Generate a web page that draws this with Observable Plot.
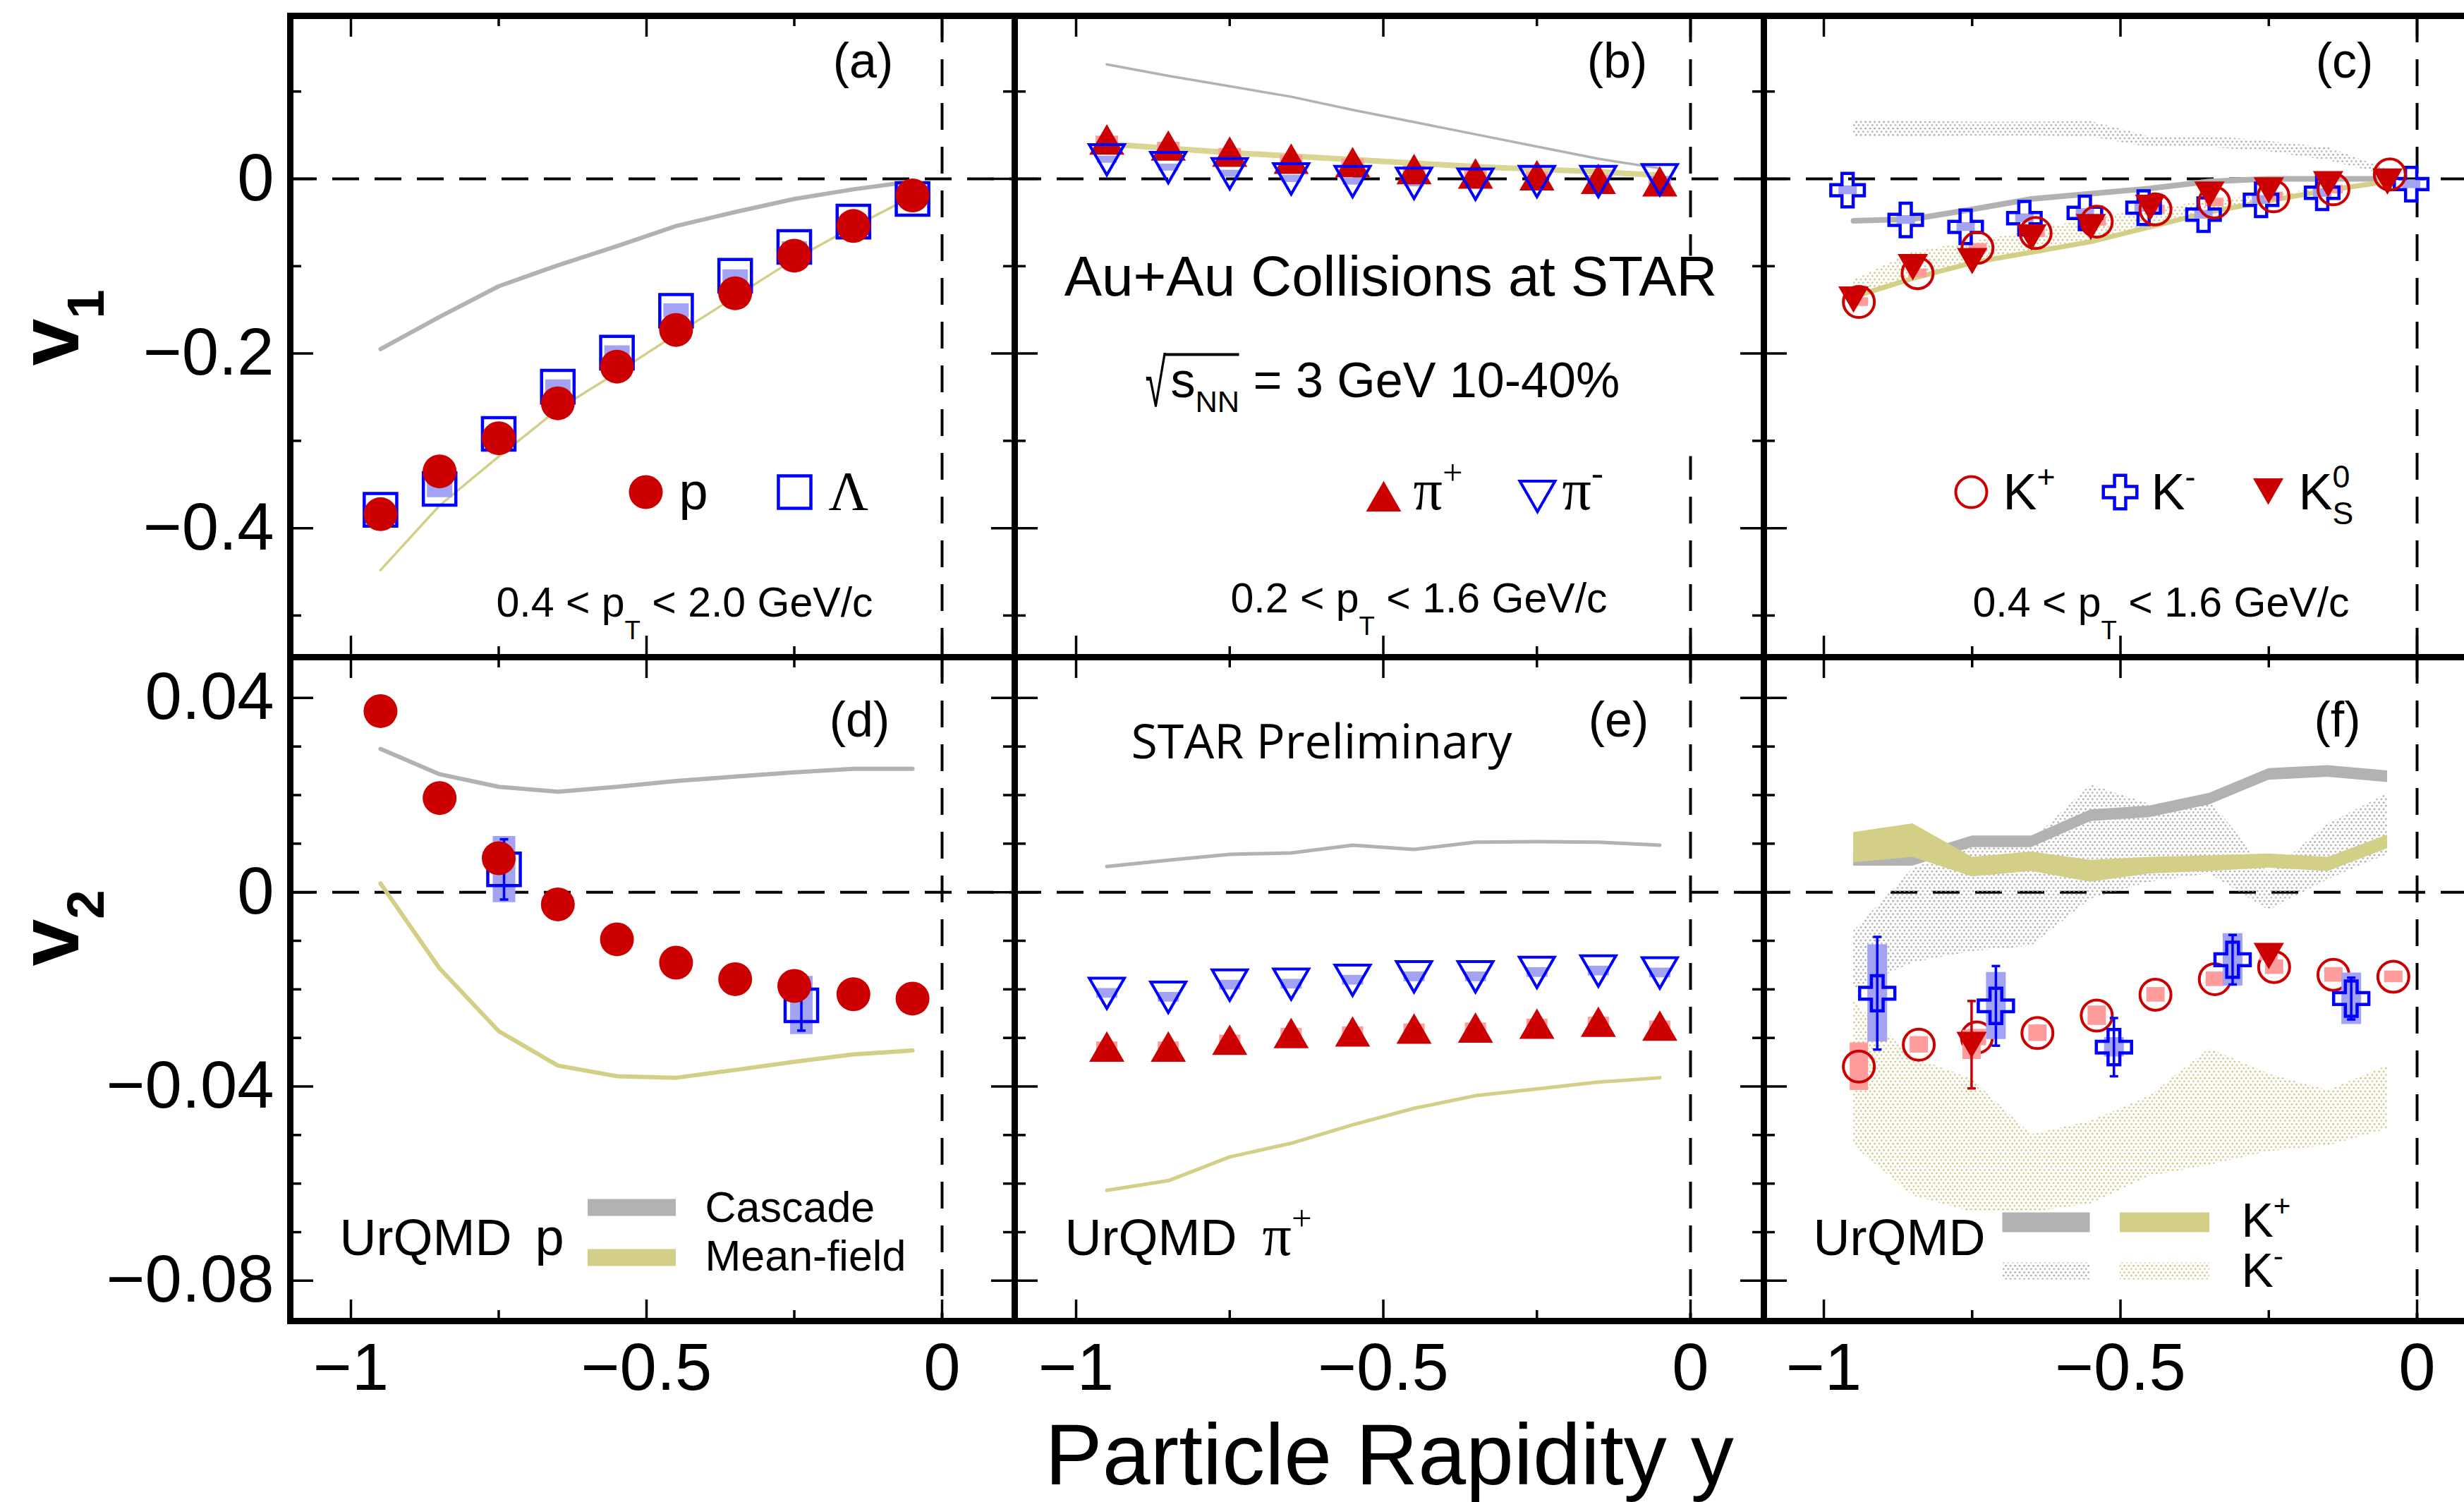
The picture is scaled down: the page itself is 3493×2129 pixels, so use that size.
<!DOCTYPE html>
<html><head><meta charset="utf-8">
<script src="https://cdn.jsdelivr.net/npm/d3@7"></script>
<script src="https://cdn.jsdelivr.net/npm/@observablehq/plot@0.6"></script>
<style>
html,body{margin:0;padding:0;background:#fff;overflow:hidden;}
#fig{position:relative;width:3493px;height:2129px;overflow:hidden;background:#fff;}
</style></head>
<body><div id="fig"></div>
<svg width="0" height="0" style="position:absolute">
<defs>
<pattern id="dotsGray" width="6.5" height="9.3" patternUnits="userSpaceOnUse"><circle cx="1.6" cy="2" r="1.35" fill="#a6a6a6"/><circle cx="4.85" cy="6.6" r="1.35" fill="#a6a6a6"/></pattern>
<pattern id="dotsOlive" width="6.5" height="9.3" patternUnits="userSpaceOnUse"><circle cx="1.6" cy="2" r="1.35" fill="#c9c27a"/><circle cx="4.85" cy="6.6" r="1.35" fill="#c9c27a"/></pattern>
</defs></svg>
<script>
// ---------------- data ----------------
const rapidity = [-0.95,-0.85,-0.75,-0.65,-0.55,-0.45,-0.35,-0.25,-0.15,-0.05];
const xTicks = [-1,-0.75,-0.5,-0.25,0];
const xTickLabels = [-1,-0.5,0];
const v1Ticks = [-0.5,-0.4,-0.3,-0.2,-0.1,0,0.1];
const v1TickLabels = [-0.4,-0.2,0];
const v2Ticks = [-0.08,-0.07,-0.06,-0.05,-0.04,-0.03,-0.02,-0.01,0,0.01,0.02,0.03,0.04];
const v2TickLabels = [-0.08,-0.04,0,0.04];

// (a) v1 protons and lambdas
const v1Proton = [-0.384,-0.335,-0.297,-0.257,-0.215,-0.173,-0.131,-0.088,-0.054,-0.019];
const v1Lambda = [-0.379,-0.355,-0.292,-0.238,-0.199,-0.151,-0.111,-0.078,-0.049,-0.023];
const v1LambdaSys = [0.006,0.010,0.006,0.008,0.008,0.008,0.007,0.006,0.005,0.004];
const v1ProtonCascade = [-0.195,-0.158,-0.123,-0.099,-0.077,-0.054,-0.038,-0.023,-0.012,-0.003];
const v1ProtonMeanField = [-0.448,-0.374,-0.318,-0.264,-0.222,-0.178,-0.135,-0.092,-0.055,-0.020];

// (b) v1 pions
const v1PiPlus = [0.045,0.038,0.031,0.023,0.019,0.011,0.006,0.004,0.000,-0.003];
const v1PiMinus = [0.022,0.013,0.006,0.000,-0.003,-0.005,-0.006,-0.003,-0.003,-0.001];
const v1PionSys = [0.004,0.004,0.004,0.004,0.004,0.004,0.004,0.004,0.004,0.004];
const v1PionCascade = [0.131,0.118,0.106,0.094,0.079,0.065,0.051,0.037,0.023,0.012];
const v1PionMeanField = [0.040,0.035,0.030,0.026,0.022,0.018,0.014,0.011,0.008,0.004];

// (c) v1 kaons
const yKPlus = [-0.941,-0.842,-0.741,-0.643,-0.540,-0.441,-0.342,-0.242,-0.141,-0.046];
const v1KPlus = [-0.141,-0.108,-0.079,-0.062,-0.049,-0.035,-0.027,-0.020,-0.012,0.005];
const yKMinus = [-0.960,-0.862,-0.761,-0.662,-0.560,-0.461,-0.360,-0.263,-0.160,-0.010];
const v1KMinus = [-0.013,-0.047,-0.055,-0.045,-0.039,-0.033,-0.041,-0.024,-0.016,-0.006];
const v1KaonSys = [0.005,0.005,0.005,0.005,0.005,0.005,0.005,0.005,0.005,0.005];
const v1K0S = [-0.138,-0.101,-0.094,-0.067,-0.055,-0.033,-0.018,-0.013,-0.006,-0.003];
const v1KPlusCascade = [-0.048,-0.046,-0.035,-0.023,-0.017,-0.011,-0.003,0.000,0.000,0.000];
const v1KPlusMeanField = [-0.135,-0.114,-0.096,-0.084,-0.072,-0.055,-0.038,-0.025,-0.013,-0.003];
const v1KMinusCascadeHi = [0.067,0.066,0.065,0.065,0.066,0.048,0.049,0.043,0.036,0.011];
const v1KMinusCascadeLo = [0.048,0.048,0.049,0.049,0.048,0.036,0.036,0.031,0.021,0.004];
const v1KMinusMeanFieldHi = [-0.116,-0.084,-0.072,-0.060,-0.045,-0.035,-0.025,-0.018,-0.011,-0.001];
const v1KMinusMeanFieldLo = [-0.138,-0.117,-0.099,-0.087,-0.075,-0.058,-0.041,-0.028,-0.016,-0.005];

// (d) v2 protons and lambdas
const v2Proton = [0.0373,0.0194,0.0070,-0.0025,-0.0097,-0.0145,-0.0179,-0.0193,-0.0210,-0.0219];
const yLambdaV2 = [-0.741,-0.238];
const v2Lambda = [0.0047,-0.0233];
const v2LambdaStat = [0.0062,0.0052];
const v2LambdaSys = [0.0068,0.0060];
const v2ProtonCascade = [0.0295,0.0243,0.0217,0.0207,0.0217,0.0229,0.0238,0.0247,0.0254,0.0254];
const v2ProtonMeanField = [0.0018,-0.0157,-0.0286,-0.0357,-0.0379,-0.0382,-0.0366,-0.0349,-0.0334,-0.0326];

// (e) v2 pions
const v2PiMinus = [-0.0208,-0.0216,-0.0191,-0.0189,-0.0181,-0.0174,-0.0174,-0.0165,-0.0162,-0.0166];
const v2PiPlus = [-0.0318,-0.0318,-0.0304,-0.0290,-0.0287,-0.0281,-0.0279,-0.0271,-0.0267,-0.0275];
const v2PionSys = [0.0010,0.0010,0.0010,0.0010,0.0010,0.0010,0.0010,0.0010,0.0010,0.0010];
const v2PionCascade = [0.0053,0.0066,0.0078,0.0081,0.0097,0.0088,0.0103,0.0104,0.0103,0.0097];
const v2PionMeanField = [-0.0614,-0.0594,-0.0545,-0.0517,-0.0479,-0.0445,-0.0419,-0.0405,-0.0391,-0.0382];

// (f) v2 kaons
const yKPlusV2 = [-0.941,-0.840,-0.742,-0.640,-0.540,-0.441,-0.341,-0.241,-0.141,-0.040];
const v2KPlus = [-0.0359,-0.0314,-0.0299,-0.0290,-0.0254,-0.0211,-0.0179,-0.0154,-0.0170,-0.0174];
const v2KPlusSys = [0.0049,0.0017,0.0017,0.0017,0.0020,0.0015,0.0015,0.0015,0.0015,0.0012];
const yKMinusV2 = [-0.910,-0.710,-0.511,-0.311,-0.111];
const v2KMinus = [-0.0208,-0.0234,-0.0319,-0.0139,-0.0219];
const v2KMinusStat = [0.0116,0.0082,0.0060,0.0051,0.0043];
const v2KMinusSys = [0.0100,0.0069,0.0020,0.0054,0.0053];
const yK0SV2 = [-0.751,-0.250];
const v2K0S = [-0.0314,-0.0131];
const v2K0SStat = [0.0090,0.0010];
const v2K0SSys = [0.0030,0.0010];
const v2KPlusCascadeLo = [0.0054,0.0054,0.0092,0.0092,0.0146,0.0154,0.0180,0.0231,0.0237,0.0226];
const v2KPlusCascadeHi = [0.0078,0.0078,0.0116,0.0116,0.0170,0.0178,0.0204,0.0255,0.0261,0.0250];
const v2KPlusMeanFieldLo = [0.0061,0.0072,0.0032,0.0043,0.0021,0.0038,0.0043,0.0050,0.0043,0.0090];
const v2KPlusMeanFieldHi = [0.0123,0.0141,0.0072,0.0083,0.0066,0.0072,0.0075,0.0079,0.0072,0.0118];
const v2KMinusCascadeHi = [-0.0080,0.0049,0.0095,0.0106,0.0221,0.0181,0.0192,0.0038,0.0141,0.0203];
const v2KMinusCascadeLo = [-0.0200,-0.0145,-0.0122,-0.0111,-0.0014,0.0021,0.0038,-0.0037,0.0026,0.0078];
const v2KMinusMeanFieldHi = [-0.0225,-0.0339,-0.0385,-0.0499,-0.0471,-0.0419,-0.0322,-0.0374,-0.0408,-0.0357];
const v2KMinusMeanFieldLo = [-0.0522,-0.0625,-0.0659,-0.0659,-0.0642,-0.0585,-0.0562,-0.0534,-0.0522,-0.0488];

// ---------------- style / layout ----------------
const FONT = "'Liberation Sans', Arial, Helvetica, sans-serif";
const SERIF = "'Liberation Serif', 'Times New Roman', serif";
const OPEN = "'Open Sans', sans-serif";
const RED = "#cc0000", BLUE = "#0000ff", GRAY = "#b2b2b2", OLIVE = "#d3cf86";
const PINK = "#ff9c9c", LAV = "#a3a3f3";

const COLS = [
  {x0: 411, x1: 1438, domain: [-1.1026, 0.1229]},
  {x0: 1438, x1: 2500, domain: [-1.0999, 0.1194]},
  {x0: 2500, x1: 3527, domain: [-1.1011, 0.1201]}
];
const ROWS = [
  {y0: 22, y1: 931, domain: [-0.5477, 0.1866]},
  {y0: 931, y1: 1872, domain: [-0.0883, 0.0484]}
];

const pts = (xs, ys, es) => xs.map((x, i) => ({x, y: ys[i], e: es ? es[i] : 0}));
const band = (xs, lo, hi) => xs.map((x, i) => ({x, lo: lo[i], hi: hi[i]}));
const fmt = d => d === 0 ? "0" : (d < 0 ? "\u2212" : "") + Math.abs(d);
const rectSymbol = (w, h) => ({draw(ctx) { ctx.moveTo(-w/2, -h/2); ctx.lineTo(w/2, -h/2); ctx.lineTo(w/2, h/2); ctx.lineTo(-w/2, h/2); ctx.closePath(); }});

const label = (s, dx, dy, o = {}) => Plot.text([s], {frameAnchor: "top-left", dx, dy, text: d => d,
  lineAnchor: "bottom", textAnchor: "start", fontSize: 70, fill: "black", ...o});
const marker = (dx, dy, o = {}) => Plot.dot([0], {frameAnchor: "top-left", dx, dy, ...o});
const zeroLines = () => [
  Plot.ruleY([0], {stroke: "black", strokeWidth: 4, strokeDasharray: "38,22"}),
  Plot.ruleX([0], {stroke: "black", strokeWidth: 4, strokeDasharray: "38,24"})
];
const sysBox = (data, color, width) => Plot.ruleX(data, {x: "x", y1: d => d.y - d.e, y2: d => d.y + d.e, stroke: color, strokeWidth: width});
const errBar = (data, color) => [
  Plot.ruleX(data, {x: "x", y1: d => d.y - d.e, y2: d => d.y + d.e, stroke: color, strokeWidth: 3.5}),
  Plot.dot(data, {x: "x", y: d => d.y - d.e, symbol: rectSymbol(12, 3.5), fill: color}),
  Plot.dot(data, {x: "x", y: d => d.y + d.e, symbol: rectSymbol(12, 3.5), fill: color})
];
const line = (xs, ys, color, width) => Plot.line(pts(xs, ys), {x: "x", y: "y", stroke: color, strokeWidth: width});

function frameMarks(w, h, yTicks, yMajor) {
  const xMinor = xTicks.filter(t => !xTickLabels.includes(t));
  const yMinor = yTicks.filter(t => !yMajor.includes(t));
  const s = {stroke: "black", strokeWidth: 3.5};
  return [
    Plot.tickX(xMinor, {x: d => d, insetTop: h - 15, ...s}),
    Plot.tickX(xMinor, {x: d => d, insetBottom: h - 15, ...s}),
    Plot.tickX(xTickLabels, {x: d => d, insetTop: h - 30, ...s}),
    Plot.tickX(xTickLabels, {x: d => d, insetBottom: h - 30, ...s}),
    Plot.tickY(yMinor, {y: d => d, insetRight: w - 16, ...s}),
    Plot.tickY(yMinor, {y: d => d, insetLeft: w - 16, ...s}),
    Plot.tickY(yMajor, {y: d => d, insetRight: w - 33, ...s}),
    Plot.tickY(yMajor, {y: d => d, insetLeft: w - 33, ...s}),
    Plot.frame({stroke: "black", strokeWidth: 9})
  ];
}
const xAxisLabels = () => Plot.axisX({anchor: "bottom", ticks: xTickLabels, tickSize: 0, tickPadding: 31, fontSize: 94, tickFormat: fmt, label: null});

const fig = document.getElementById("fig");
const svgs = [];
function makePanel(col, row, build) {
  const c = COLS[col], r = ROWS[row];
  const w = c.x1 - c.x0, h = r.y1 - r.y0;
  const svg = Plot.plot({
    width: w, height: h,
    marginTop: 0, marginRight: 0, marginBottom: 0, marginLeft: 0,
    x: {domain: c.domain, axis: null},
    y: {domain: r.domain, axis: null},
    style: {fontFamily: FONT, background: "transparent", overflow: "visible"},
    marks: build(w, h)
  });
  Object.assign(svg.style, {position: "absolute", left: c.x0 + "px", top: r.y0 + "px",
    maxWidth: "none", overflow: "visible", background: "transparent"});
  fig.appendChild(svg);
  svgs.push(svg);
}

// (a)
makePanel(0, 0, (w, h) => [
  zeroLines(),
  line(rapidity, v1ProtonCascade, GRAY, 6),
  line(rapidity, v1ProtonMeanField, OLIVE, 3.5),
  sysBox(pts(rapidity, v1Lambda, v1LambdaSys), LAV, 36),
  Plot.dot(pts(rapidity, v1Lambda), {x: "x", y: "y", symbol: "square", r: 26, stroke: BLUE, strokeWidth: 4.5, fill: "none"}),
  Plot.dot(pts(rapidity, v1Proton), {x: "x", y: "y", r: 24, fill: RED}),
  label("(a)", 812, 87, {textAnchor: "middle"}),
  marker(504, 675, {r: 24, fill: RED}),
  label("p", 551, 699, {fontSize: 74}),
  marker(715, 675, {symbol: "square", r: 26, stroke: BLUE, strokeWidth: 4.5, fill: "none"}),
  label("\u039B", 763, 699, {fontSize: 78, fontFamily: SERIF}),
  label("0.4 < p_[T] < 2.0 GeV/c", 292, 851, {fontSize: 59}),
  label("v_{1}", -301, 442, {fontSize: 120, fontWeight: "bold", rotate: -90, textAnchor: "middle"}),
  Plot.axisY({anchor: "left", ticks: v1TickLabels, tickSize: 0, tickPadding: 23, fontSize: 94, tickFormat: fmt, label: null}),
  frameMarks(w, h, v1Ticks, v1TickLabels)
]);

// (b)
makePanel(1, 0, (w, h) => [
  zeroLines(),
  Plot.dot([0], {frameAnchor: "top-left", dx: 533, dy: 482, symbol: rectSymbol(960, 284), fill: "white"}),
  line(rapidity, v1PionCascade, GRAY, 3.5),
  line(rapidity, v1PionMeanField, "#d9d593", 8),
  sysBox(pts(rapidity, v1PiPlus, v1PionSys), PINK, 32),
  sysBox(pts(rapidity, v1PiMinus, v1PionSys), LAV, 28),
  Plot.dot(pts(rapidity, v1PiPlus), {x: "x", y: "y", symbol: "triangle", r: 18.5, fill: RED, dy: 7}),
  Plot.dot(pts(rapidity, v1PiMinus), {x: "x", y: "y", symbol: "triangle", rotate: 180, r: 18.5, stroke: BLUE, strokeWidth: 4, fill: "none", dy: -7}),
  label("(b)", 854, 87, {textAnchor: "middle"}),
  label("Au+Au Collisions at STAR", 533, 396, {fontSize: 80, textAnchor: "middle"}),
  marker(265, 480, {symbol: rectSymbol(106, 4), fill: "black"}),
  label("\u221A", 185, 553, {fontSize: 96}),
  label("s_{NN} = 3 GeV 10-40%", 221, 540, {fontSize: 70}),
  marker(523, 688, {symbol: "triangle", r: 18.5, fill: RED}),
  label("\u03C0^{+}", 565, 699, {fontSize: 82, fontFamily: SERIF}),
  marker(741, 674, {symbol: "triangle", rotate: 180, r: 18.5, stroke: BLUE, strokeWidth: 4, fill: "none"}),
  label("\u03C0^{-}", 776, 699, {fontSize: 82, fontFamily: SERIF}),
  label("0.2 < p_[T] < 1.6 GeV/c", 306, 845, {fontSize: 59}),
  frameMarks(w, h, v1Ticks, v1TickLabels)
]);

// (c)
makePanel(2, 0, (w, h) => [
  zeroLines(),
  Plot.areaY(band(rapidity, v1KMinusCascadeLo, v1KMinusCascadeHi), {x: "x", y1: "lo", y2: "hi", fill: "url(#dotsGray)"}),
  Plot.areaY(band(rapidity, v1KMinusMeanFieldLo, v1KMinusMeanFieldHi), {x: "x", y1: "lo", y2: "hi", fill: "url(#dotsOlive)"}),
  line(rapidity, v1KPlusCascade, GRAY, 8),
  line(rapidity, v1KPlusMeanField, OLIVE, 7),
  sysBox(pts(yKMinus, v1KMinus, v1KaonSys), LAV, 26),
  sysBox(pts(yKPlus, v1KPlus, v1KaonSys), PINK, 26),
  Plot.dot(pts(yKMinus, v1KMinus), {x: "x", y: "y", symbol: "cross", r: 20, stroke: BLUE, strokeWidth: 4.5, fill: "none"}),
  Plot.dot(pts(yKPlus, v1KPlus), {x: "x", y: "y", r: 22, stroke: RED, strokeWidth: 4, fill: "none"}),
  Plot.dot(pts(rapidity, v1K0S), {x: "x", y: "y", symbol: "triangle", rotate: 180, r: 16, fill: RED, dy: -6}),
  label("(c)", 823, 87, {textAnchor: "middle"}),
  marker(294, 675, {r: 22, stroke: RED, strokeWidth: 4, fill: "none"}),
  label("K^{+}", 339, 699, {fontSize: 72}),
  marker(505, 675, {symbol: "cross", r: 20, stroke: BLUE, strokeWidth: 4.5, fill: "none"}),
  label("K^{-}", 549, 699, {fontSize: 72}),
  marker(715, 668, {symbol: "triangle", rotate: 180, r: 16, fill: RED}),
  label("K^{0}_{S}", 758, 699, {fontSize: 72}),
  label("0.4 < p_[T] < 1.6 GeV/c", 296, 851, {fontSize: 59}),
  frameMarks(w, h, v1Ticks, v1TickLabels)
]);

// (d)
makePanel(0, 1, (w, h) => [
  zeroLines(),
  line(rapidity, v2ProtonCascade, GRAY, 6),
  line(rapidity, v2ProtonMeanField, OLIVE, 6),
  sysBox(pts(yLambdaV2, v2Lambda, v2LambdaSys), LAV, 32),
  errBar(pts(yLambdaV2, v2Lambda, v2LambdaStat), BLUE),
  Plot.dot(pts(yLambdaV2, v2Lambda), {x: "x", y: "y", symbol: "square", r: 26, stroke: BLUE, strokeWidth: 4.5, fill: "none"}),
  Plot.dot(pts(rapidity, v2Proton), {x: "x", y: "y", r: 24, fill: RED}),
  label("(d)", 807, 112, {textAnchor: "middle"}),
  label("UrQMD", 70, 847, {fontSize: 72}),
  label("p", 347, 847, {fontSize: 74}),
  marker(484, 780, {symbol: rectSymbol(125, 24), fill: GRAY}),
  marker(484, 851, {symbol: rectSymbol(125, 24), fill: OLIVE}),
  label("Cascade", 588, 800, {fontSize: 61}),
  label("Mean-field", 588, 869, {fontSize: 61}),
  label("v_{2}", -301, 384, {fontSize: 120, fontWeight: "bold", rotate: -90, textAnchor: "middle"}),
  Plot.axisY({anchor: "left", ticks: v2TickLabels, tickSize: 0, tickPadding: 23, fontSize: 94, tickFormat: fmt, label: null}),
  xAxisLabels(),
  frameMarks(w, h, v2Ticks, v2TickLabels)
]);

// (e)
makePanel(1, 1, (w, h) => [
  zeroLines(),
  line(rapidity, v2PionCascade, GRAY, 5),
  line(rapidity, v2PionMeanField, OLIVE, 5),
  sysBox(pts(rapidity, v2PiMinus, v2PionSys), LAV, 30),
  sysBox(pts(rapidity, v2PiPlus, v2PionSys), PINK, 30),
  Plot.dot(pts(rapidity, v2PiPlus), {x: "x", y: "y", symbol: "triangle", r: 18.5, fill: RED, dy: 7}),
  Plot.dot(pts(rapidity, v2PiMinus), {x: "x", y: "y", symbol: "triangle", rotate: 180, r: 18.5, stroke: BLUE, strokeWidth: 4, fill: "none", dy: -7}),
  label("STAR Preliminary", 165, 143, {fontSize: 68, fontFamily: OPEN}),
  label("(e)", 856, 112, {textAnchor: "middle"}),
  label("UrQMD", 71, 847, {fontSize: 72}),
  label("\u03C0^{+}", 351, 847, {fontSize: 82, fontFamily: SERIF}),
  Plot.text(["Particle Rapidity y"], {frameAnchor: "bottom", dy: 231, text: d => d, lineAnchor: "bottom", textAnchor: "middle", fontSize: 122, fill: "black"}),
  xAxisLabels(),
  frameMarks(w, h, v2Ticks, v2TickLabels)
]);

// (f)
makePanel(2, 1, (w, h) => [
  zeroLines(),
  Plot.areaY(band(rapidity, v2KMinusCascadeLo, v2KMinusCascadeHi), {x: "x", y1: "lo", y2: "hi", fill: "url(#dotsGray)"}),
  Plot.areaY(band(rapidity, v2KMinusMeanFieldLo, v2KMinusMeanFieldHi), {x: "x", y1: "lo", y2: "hi", fill: "url(#dotsOlive)"}),
  Plot.areaY(band(rapidity, v2KPlusCascadeLo, v2KPlusCascadeHi), {x: "x", y1: "lo", y2: "hi", fill: GRAY}),
  Plot.areaY(band(rapidity, v2KPlusMeanFieldLo, v2KPlusMeanFieldHi), {x: "x", y1: "lo", y2: "hi", fill: OLIVE}),
  sysBox(pts(yKPlusV2, v2KPlus, v2KPlusSys), PINK, 26),
  Plot.dot(pts(yKPlusV2, v2KPlus), {x: "x", y: "y", r: 22, stroke: RED, strokeWidth: 4, fill: "none"}),
  sysBox(pts(yKMinusV2, v2KMinus, v2KMinusSys), LAV, 28),
  errBar(pts(yKMinusV2, v2KMinus, v2KMinusStat), BLUE),
  Plot.dot(pts(yKMinusV2, v2KMinus), {x: "x", y: "y", symbol: "cross", r: 21, stroke: BLUE, strokeWidth: 4.5, fill: "none"}),
  sysBox(pts(yK0SV2, v2K0S, v2K0SSys), PINK, 26),
  errBar(pts(yK0SV2, v2K0S, v2K0SStat), RED),
  Plot.dot(pts(yK0SV2, v2K0S), {x: "x", y: "y", symbol: "triangle", rotate: 180, r: 16, fill: RED, dy: -6}),
  label("(f)", 813, 112, {textAnchor: "middle"}),
  label("UrQMD", 70, 847, {fontSize: 72}),
  marker(400, 801, {symbol: rectSymbol(124, 28), fill: GRAY}),
  marker(568, 801, {symbol: rectSymbol(127, 28), fill: OLIVE}),
  marker(400, 870, {symbol: rectSymbol(124, 24), fill: "url(#dotsGray)"}),
  marker(568, 870, {symbol: rectSymbol(127, 24), fill: "url(#dotsOlive)"}),
  label("K^{+}", 677, 821, {fontSize: 68}),
  label("K^{-}", 677, 892, {fontSize: 68}),
  xAxisLabels(),
  frameMarks(w, h, v2Ticks, v2TickLabels)
]);

// rich text: _{..} subscript, _[..] deep subscript, ^{..} superscript; narrow tall radical sign
const NS = "http://www.w3.org/2000/svg";
function applyRich(svg) {
  svg.querySelectorAll("text").forEach(t => {
    let s = t.textContent;
    if (s === "\u221A") {
      const tr = t.getAttribute("transform") || "";
      const x = parseFloat(t.getAttribute("x")) || 0;
      t.removeAttribute("x");
      t.setAttribute("transform", `${tr} translate(${x},0) scale(0.56,1)`);
      return;
    }
    if (!/[_^][\{\[]/.test(s)) return;
    const fs = parseFloat(getComputedStyle(t).fontSize);
    while (t.firstChild) t.removeChild(t.firstChild);
    let shift = 0, prevSup = null, m;
    const re = /([_^])(?:\{([^}]*)\}|\[([^\]]*)\])|([^_^]+)/g;
    while ((m = re.exec(s))) {
      const ts = document.createElementNS(NS, "tspan");
      let target;
      if (m[4] !== undefined) {
        ts.textContent = m[4]; target = 0; t.appendChild(ts); prevSup = null;
      } else {
        ts.textContent = m[2] !== undefined ? m[2] : m[3];
        ts.setAttribute("font-size", (0.62 * fs).toFixed(1));
        if (m[1] === "^") target = -0.42 * fs;
        else target = (m[3] !== undefined ? 0.55 : 0.3) * fs;
        t.appendChild(ts);
        if (m[1] === "_" && prevSup) ts.setAttribute("dx", (-prevSup.getComputedTextLength()).toFixed(1));
        prevSup = m[1] === "^" ? ts : null;
      }
      ts.setAttribute("dy", (target - shift).toFixed(1));
      shift = target;
    }
  });
}
svgs.forEach(applyRich);
</script>
</body></html>
